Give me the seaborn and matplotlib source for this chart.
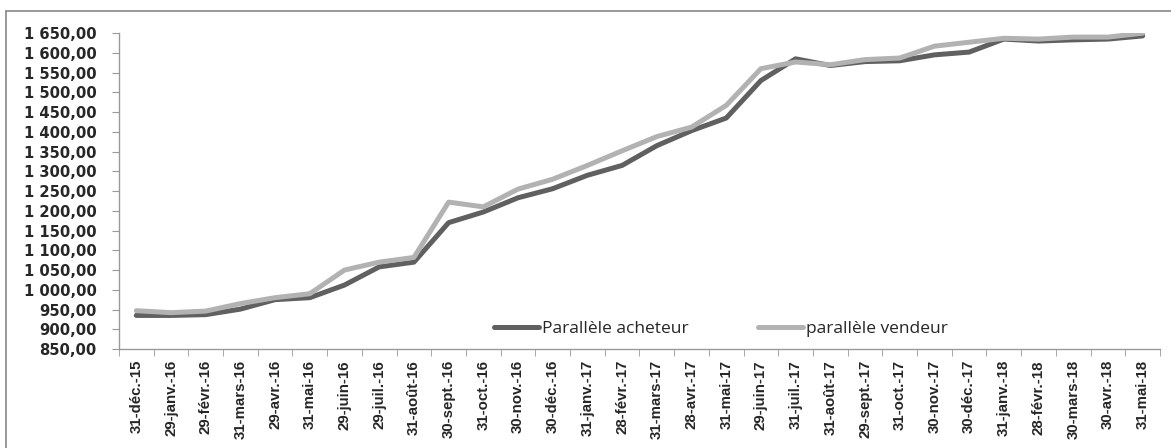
import pandas as pd
import matplotlib.pyplot as plt
import matplotlib.ticker as mticker
import seaborn as sns

# dates (libellés de l'axe x)
dates = ["31-déc.-15", "29-janv.-16", "29-févr.-16", "31-mars-16", "29-avr.-16",
         "31-mai-16", "29-juin-16", "29-juil.-16", "31-août-16", "30-sept.-16",
         "31-oct.-16", "30-nov.-16", "30-déc.-16", "31-janv.-17", "28-févr.-17",
         "31-mars-17", "28-avr.-17", "31-mai-17", "29-juin-17", "31-juil.-17",
         "31-août-17", "29-sept.-17", "31-oct.-17", "30-nov.-17", "30-déc.-17",
         "31-janv.-18", "28-févr.-18", "30-mars-18", "30-avr.-18", "31-mai-18"]

acheteur = [935, 935, 937, 951, 975, 980, 1012, 1058, 1070, 1170,
            1197, 1233, 1256, 1290, 1315, 1365, 1403, 1435, 1530, 1585,
            1568, 1578, 1580, 1595, 1602, 1635, 1630, 1633, 1635, 1643]

vendeur = [947, 942, 946, 965, 980, 990, 1050, 1070, 1082, 1222,
           1210, 1255, 1280, 1315, 1352, 1388, 1412, 1467, 1560, 1577,
           1570, 1583, 1587, 1617, 1627, 1637, 1635, 1640, 1640, 1650]

series = ["Parallèle acheteur", "parallèle vendeur"]

pos = list(range(len(dates)))
dados = pd.concat([
    pd.DataFrame({"pos": pos, "valeur": acheteur, "serie": series[0]}),
    pd.DataFrame({"pos": pos, "valeur": vendeur, "serie": series[1]}),
])

sns.set_style("white")
plt.rcParams["font.family"] = ["DejaVu Sans"]

fig = plt.figure(figsize=(11.71, 4.48), dpi=100)
ax = fig.add_axes([0.1016, 0.221, 0.889, 0.705])

sns.lineplot(data=dados, x="pos", y="valeur", hue="serie", hue_order=series,
             palette=["#606060", "#b2b2b2"], linewidth=3.6, ax=ax,
             solid_capstyle="round", solid_joinstyle="round")

ax.set_xlim(-0.5, len(dates) - 0.5)
ax.set_ylim(850, 1650)
ax.yaxis.set_major_locator(mticker.MultipleLocator(50))
ax.yaxis.set_major_formatter(mticker.FuncFormatter(
    lambda v, p: f"{v:,.2f}".replace(",", " ").replace(".", ",")))

# graduations entre les catégories, façon Excel
ax.set_xticks(pos)
ax.set_xticklabels(dates, rotation=90, fontsize=10.8, fontweight="bold",
                   family="Liberation Sans")
ax.set_xticks([p - 0.5 for p in pos] + [len(dates) - 0.5], minor=True)
ax.tick_params(axis="x", which="major", length=0, pad=8)
ax.tick_params(axis="x", which="minor", length=5, color="#999999",
               direction="out", bottom=True)
ax.tick_params(axis="y", length=5, color="#999999", direction="out",
               left=True, labelsize=10.6, pad=11)
for lab in ax.get_yticklabels():
    lab.set_fontweight("bold")

ax.set_xlabel("")
ax.set_ylabel("")
for s in ["top", "right"]:
    ax.spines[s].set_visible(False)
for s in ["left", "bottom"]:
    ax.spines[s].set_color("#999999")
    ax.spines[s].set_linewidth(1)

ax.legend(loc="center", bbox_to_anchor=(0.578, 0.063), ncol=2, frameon=False,
          handlelength=2.6, columnspacing=4, handletextpad=0.15,
          prop={"family": "Open Sans", "size": 12.5})

# cadre autour du graphique
fig.add_artist(plt.Line2D([6 / 1171, 6 / 1171], [0, 1 - 11 / 448],
                          transform=fig.transFigure, color="#888888", lw=1.2))
fig.add_artist(plt.Line2D([6 / 1171, 1], [1 - 11 / 448, 1 - 11 / 448],
                          transform=fig.transFigure, color="#888888", lw=1.2))

fig.savefig("out.png", dpi=100)
